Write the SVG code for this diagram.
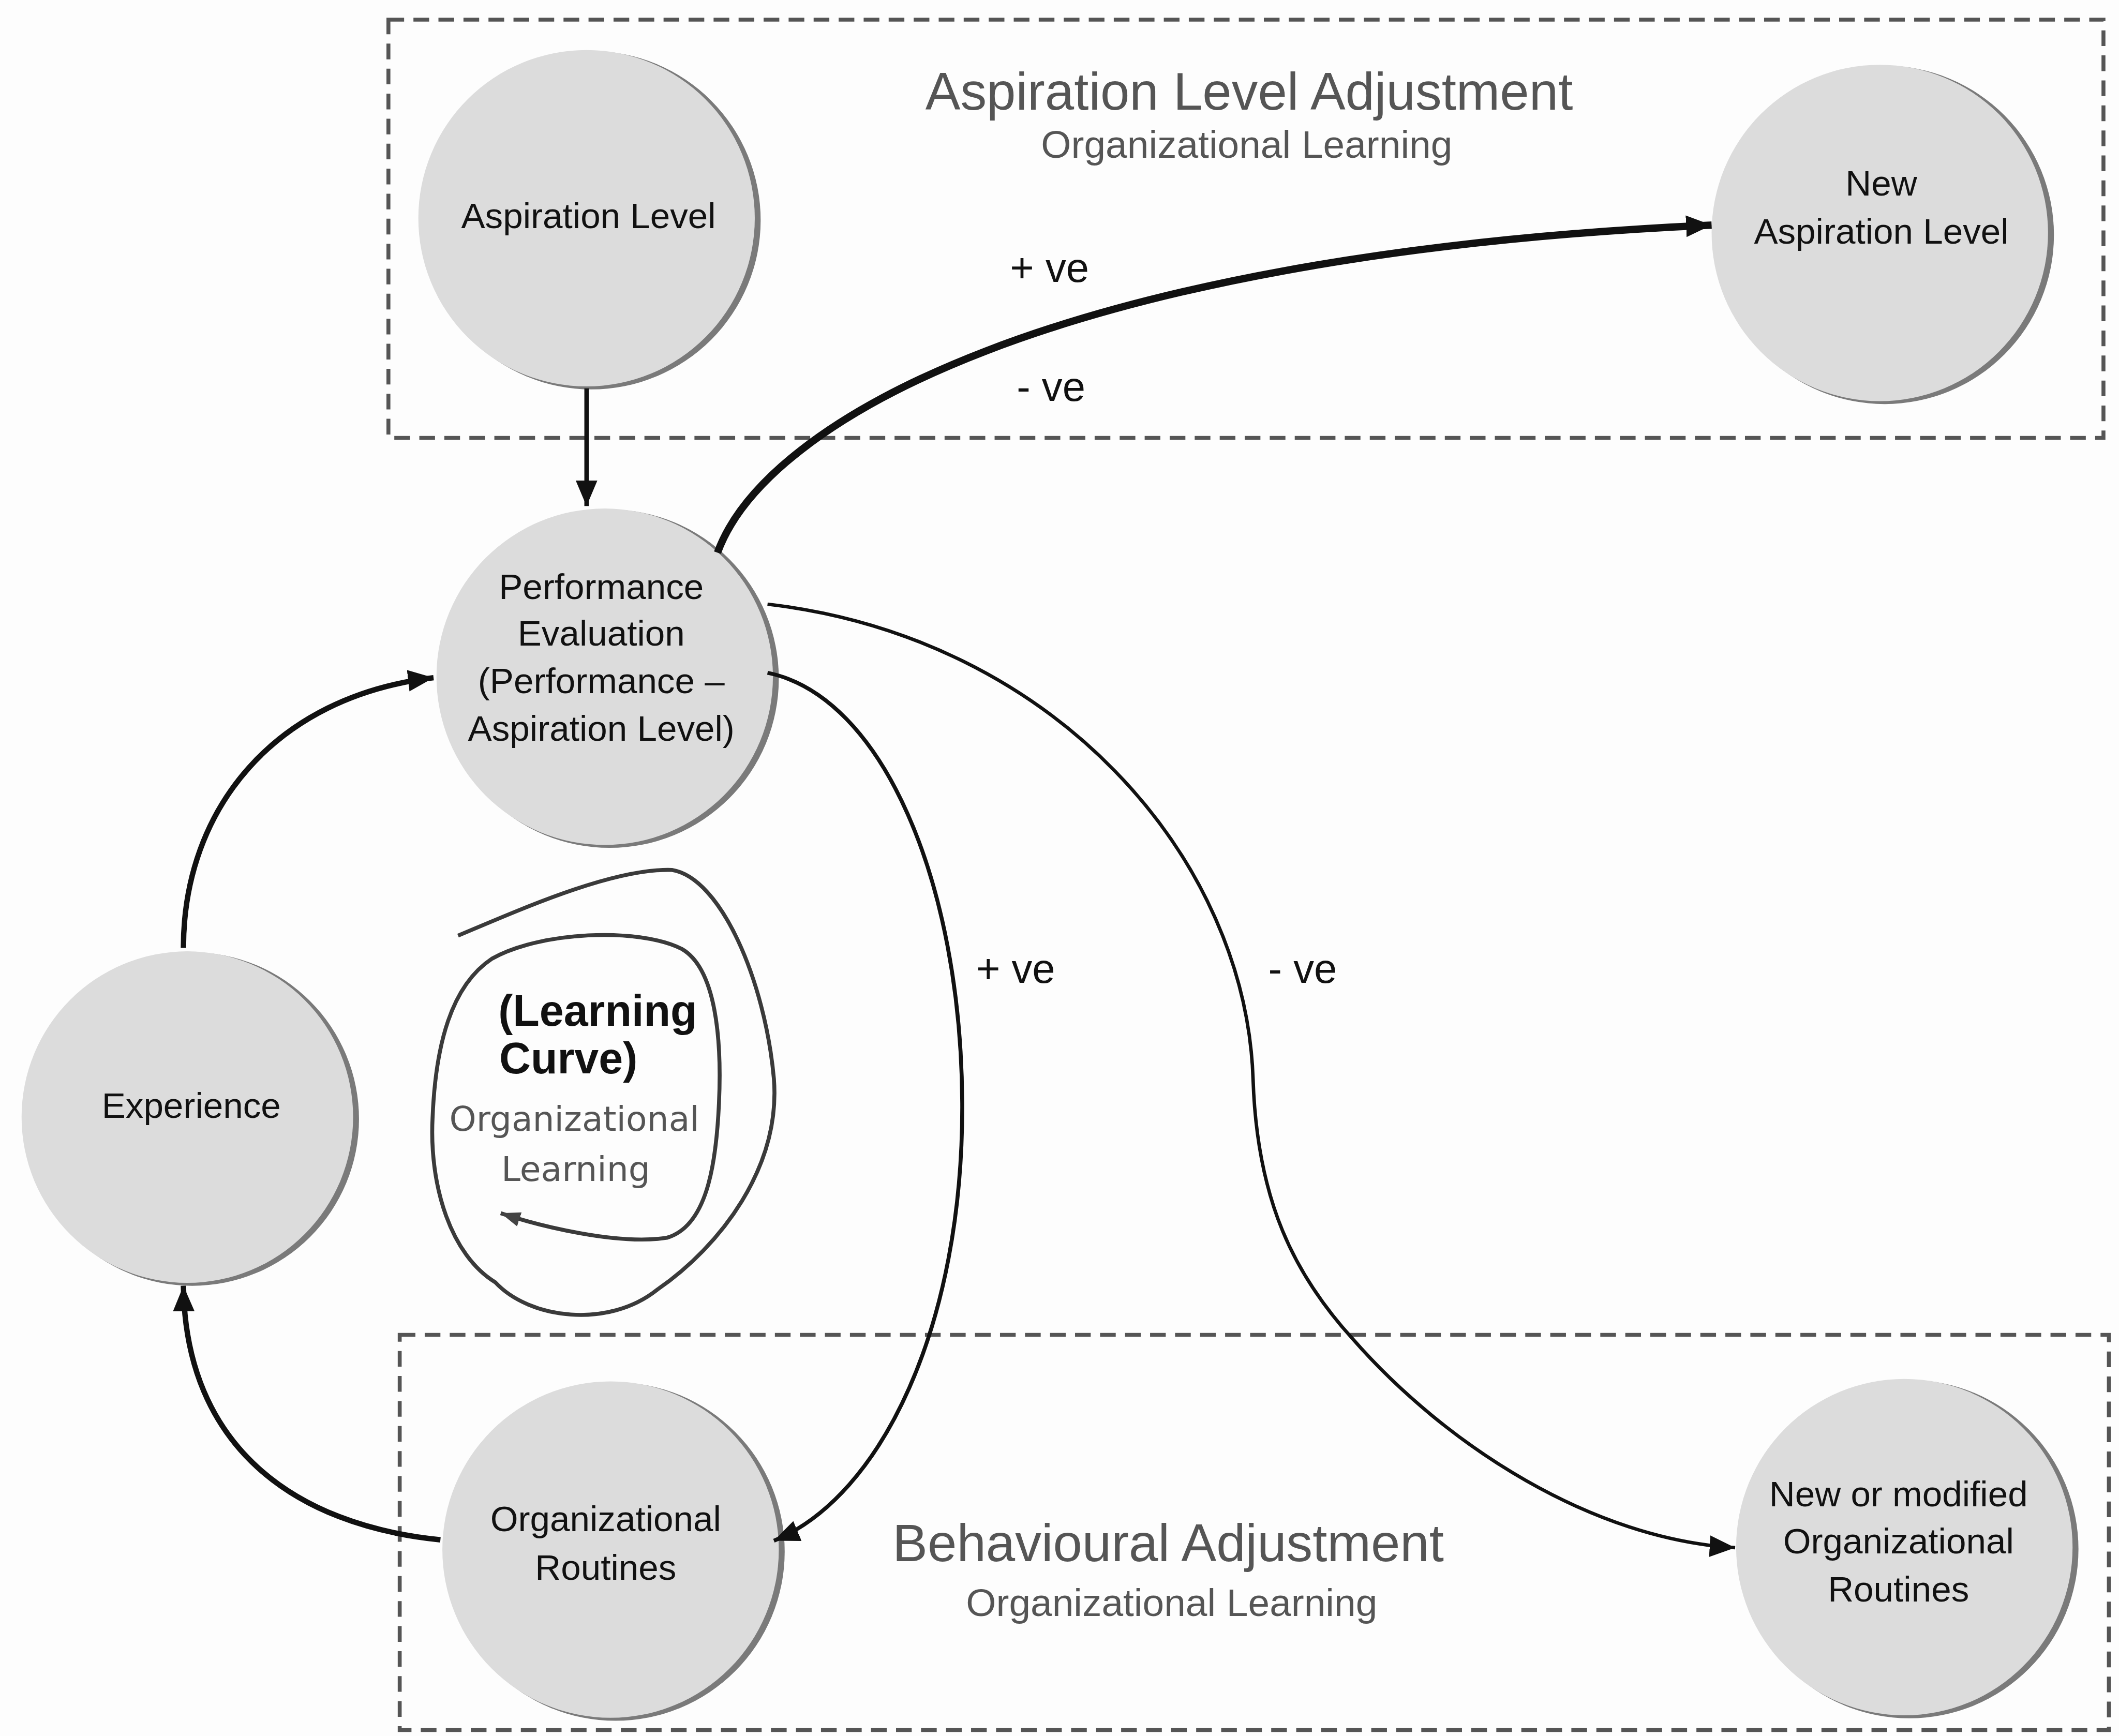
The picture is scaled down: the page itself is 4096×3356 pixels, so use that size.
<svg xmlns="http://www.w3.org/2000/svg" width="4096" height="3356" viewBox="0 0 4096 3356">
<defs>
<style>
.box{fill:none;stroke:#555;stroke-width:8;stroke-dasharray:32 19}
.shadow{fill:#7a7a7a}
.disc{fill:#dcdcdc}
.nt{font-family:"Liberation Sans",Arial,sans-serif;font-size:73px;fill:#111;text-anchor:middle}
.title{font-family:"Liberation Sans",Arial,sans-serif;font-size:107px;fill:#555;text-anchor:middle}
.sub{font-family:"Liberation Sans",Arial,sans-serif;font-size:79px;fill:#555;text-anchor:middle}
.lbl{font-family:"Liberation Sans",Arial,sans-serif;font-size:84px;fill:#111;text-anchor:middle}
.lcb{font-family:"Liberation Sans",Arial,sans-serif;font-size:89px;font-weight:bold;fill:#111}
.lcs{font-family:"DejaVu Sans",Verdana,sans-serif;font-size:70px;fill:#555;text-anchor:middle}
.conn{fill:none;stroke:#111}
</style>
<marker id="ah" viewBox="0 0 52 48" refX="52" refY="24" markerWidth="52" markerHeight="48" markerUnits="userSpaceOnUse" orient="auto">
<path d="M0,2 L52,24 L0,46 Z" fill="#111"/>
</marker>
<marker id="ahs" viewBox="0 0 40 34" refX="40" refY="17" markerWidth="40" markerHeight="34" markerUnits="userSpaceOnUse" orient="auto">
<path d="M0,2 L40,17 L0,32 Z" fill="#444"/>
</marker>
</defs>
<rect x="0" y="0" width="4096" height="3356" fill="#fdfdfd"/>
<g transform="scale(0.948)">
<g id="group-aspiration-adjustment">
<rect class="box" x="792" y="40" width="3497" height="853"/>
<text class="title" x="2547" y="224">Aspiration Level Adjustment</text>
<text class="sub" x="2542" y="322">Organizational Learning</text>
</g>
<g id="group-behavioural-adjustment">
<rect class="box" x="815" y="2722" width="3485" height="806"/>
<text class="title" x="2382" y="3184">Behavioural Adjustment</text>
<text class="sub" x="2389" y="3295">Organizational Learning</text>
</g>
<g id="node-aspiration-level">
<circle class="shadow" cx="1206" cy="449" r="345"/>
<circle class="disc" cx="1196" cy="445" r="343"/>
<text class="nt" x="1200" y="465">Aspiration Level</text>
</g>
<g id="node-new-aspiration-level">
<circle class="shadow" cx="3843" cy="479" r="345"/>
<circle class="disc" cx="3833" cy="475" r="343"/>
<text class="nt" x="3836" y="399">New</text>
<text class="nt" x="3836" y="497">Aspiration Level</text>
</g>
<g id="node-performance-evaluation">
<circle class="shadow" cx="1243" cy="1384" r="345"/>
<circle class="disc" cx="1233" cy="1380" r="343"/>
<text class="nt" x="1226" y="1222">Performance</text>
<text class="nt" x="1226" y="1316">Evaluation</text>
<text class="nt" x="1226" y="1414">(Performance –</text>
<text class="nt" x="1226" y="1511">Aspiration Level)</text>
</g>
<g id="node-experience">
<circle class="shadow" cx="392" cy="2282" r="340"/>
<circle class="disc" cx="382" cy="2278" r="338"/>
<text class="nt" x="390" y="2280">Experience</text>
</g>
<g id="node-organizational-routines">
<circle class="shadow" cx="1255" cy="3164" r="345"/>
<circle class="disc" cx="1245" cy="3160" r="343"/>
<text class="nt" x="1235" y="3122">Organizational</text>
<text class="nt" x="1235" y="3221">Routines</text>
</g>
<g id="node-new-modified-routines">
<circle class="shadow" cx="3893" cy="3159" r="345"/>
<circle class="disc" cx="3883" cy="3155" r="343"/>
<text class="nt" x="3871" y="3072">New or modified</text>
<text class="nt" x="3871" y="3168">Organizational</text>
<text class="nt" x="3871" y="3266">Routines</text>
</g>
<g id="node-learning-curve">
<path d="M934,1908 C1060,1855 1250,1770 1370,1774 C1470,1790 1560,2000 1578,2200 C1592,2380 1470,2540 1340,2630 C1240,2710 1080,2690 1010,2615 C920,2560 875,2420 882,2280 C888,2130 920,2010 1003,1955 C1100,1900 1300,1890 1390,1935 C1460,1975 1472,2120 1466,2250 C1460,2380 1440,2500 1360,2524 C1260,2540 1100,2500 1021,2474" fill="none" stroke="#3a3a3a" stroke-width="8" marker-end="url(#ahs)"/>
<text class="lcb" x="1016" y="2092">(Learning</text>
<text class="lcb" x="1018" y="2189">Curve)</text>
<text class="lcs" x="1171" y="2306">Organizational</text>
<text class="lcs" x="1174" y="2408">Learning</text>
</g>
<g id="connectors">
<path class="conn" d="M1196,792 L1196,1032" stroke-width="9" marker-end="url(#ah)"/>
<path class="conn" d="M1463,1127 C1560,860 2150,520 3490,459" stroke-width="15" marker-end="url(#ah)"/>
<path class="conn" d="M374,1933 C374,1650 560,1420 884,1382" stroke-width="11" marker-end="url(#ah)"/>
<path class="conn" d="M898,3140 C600,3110 378,2950 374,2622" stroke-width="11" marker-end="url(#ah)"/>
<path class="conn" d="M1565,1372 C1800,1420 1960,1800 1962,2250 C1964,2700 1800,3050 1578,3142" stroke-width="8" marker-end="url(#ah)"/>
<path class="conn" d="M1565,1232 C2150,1300 2540,1750 2555,2200 C2563,2450 2640,2600 2757,2729 C2950,2950 3250,3140 3538,3156" stroke-width="7" marker-end="url(#ah)"/>
<text class="lbl" x="2140" y="575">+ ve</text>
<text class="lbl" x="2143" y="818">- ve</text>
<text class="lbl" x="2071" y="2004">+ ve</text>
<text class="lbl" x="2656" y="2004">- ve</text>
</g>
</g>
</svg>
